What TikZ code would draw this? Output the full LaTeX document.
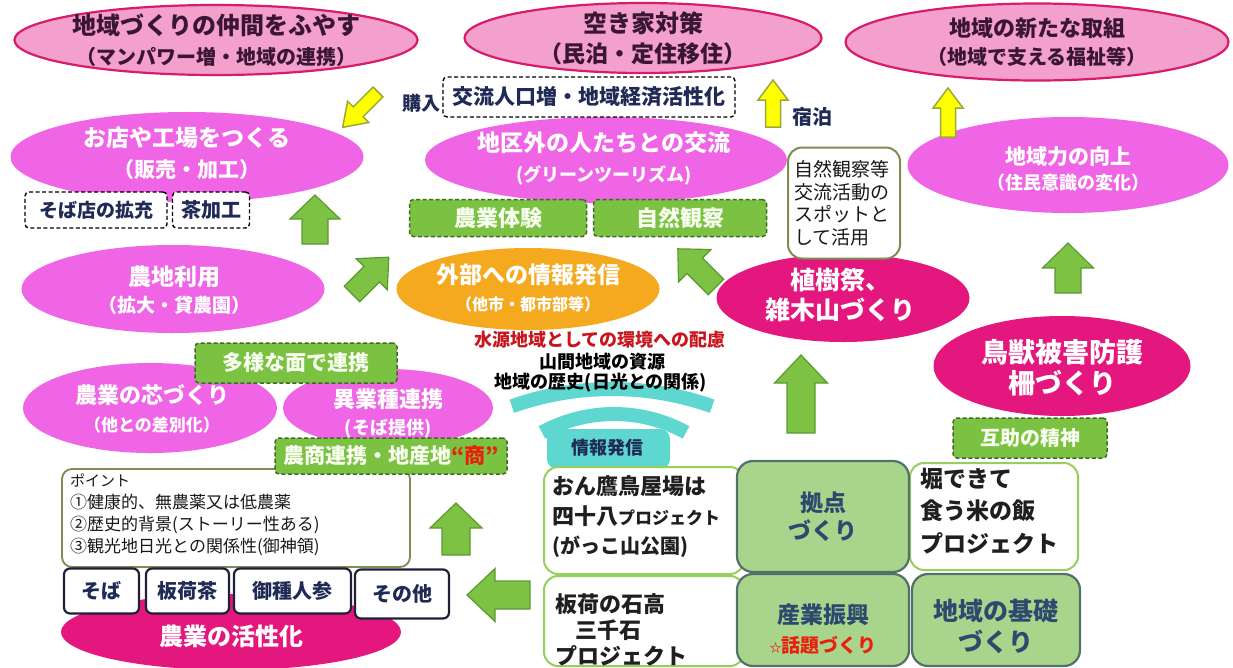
\documentclass[tikz,border=0pt]{standalone}
\usepackage{fontspec}
\setmainfont{Noto Sans CJK JP}
\usetikzlibrary{shapes.geometric}
\newcommand\fsz[2]{\fontsize{#1}{#2}\selectfont}
\definecolor{pinkF}{HTML}{F4A0CC}
\definecolor{pinkB}{HTML}{D81B6A}
\definecolor{darkT}{HTML}{3A1632}
\definecolor{magF}{HTML}{F064E6}
\definecolor{deepF}{HTML}{E3177D}
\definecolor{orgF}{HTML}{F5A91F}
\definecolor{grF}{HTML}{7CC242}
\definecolor{grB}{HTML}{3E6B28}
\definecolor{arF}{HTML}{7DC242}
\definecolor{arB}{HTML}{5B9A32}
\definecolor{yeF}{HTML}{FFFF00}
\definecolor{yeB}{HTML}{9AA83C}
\definecolor{tealA}{HTML}{5DD7CF}
\definecolor{navyT}{HTML}{1F2A55}
\definecolor{navyB}{HTML}{1E2038}
\definecolor{cellG}{HTML}{A9D48C}
\definecolor{cellB}{HTML}{52716B}
\definecolor{cellW}{HTML}{96CF5E}
\definecolor{ptB}{HTML}{7D8C52}
\definecolor{redT}{HTML}{C8161D}
\definecolor{redS}{HTML}{E8200C}
\definecolor{blueT}{HTML}{2D4A6E}
\definecolor{lightT}{HTML}{F8FFF0}
\tikzset{
  pics/barrow/.style n args={4}{code={
    \path[pic actions] (0,{-#4/2}) -- ({#1-#2},{-#4/2}) -- ({#1-#2},{-#3/2}) -- (#1,0)
      -- ({#1-#2},{#3/2}) -- ({#1-#2},{#4/2}) -- (0,{#4/2}) -- cycle;
  }},
  garr/.style={fill=arF, draw=arB, line width=1.2pt, line join=miter},
  yarr/.style={fill=yeF, draw=yeB, line width=1.5pt, line join=miter},
  ell/.style={ellipse, inner sep=0pt, outer sep=0pt},
  pinkE/.style={ell, fill=pinkF, draw=pinkB, line width=2.2pt},
  magE/.style={ell, fill=magF},
  deepE/.style={ell, fill=deepF},
  orgE/.style={ell, fill=orgF},
  etext/.style={align=center, inner sep=0pt, text=white},
  ptext/.style={align=center, inner sep=0pt, text=darkT},
  dbox/.style={rectangle, rounded corners=4pt, fill=white, draw=black, dash pattern=on 4pt off 2.5pt, line width=1.4pt, text=navyT, inner sep=0pt},
  gbox/.style={rectangle, rounded corners=4pt, fill=grF, draw=grB, dash pattern=on 4pt off 2.5pt, line width=1.5pt, text=lightT, inner sep=0pt},
  kbox/.style={rectangle, rounded corners=6pt, fill=white, draw=navyB, line width=2.2pt, text=navyT, font=\bfseries\fsz{20}{24}, inner sep=0pt},
  wcell/.style={rectangle, rounded corners=14pt, fill=white, draw=cellW, line width=2pt, inner sep=0pt},
  gcell/.style={rectangle, rounded corners=16pt, fill=cellG, draw=cellB, line width=2.2pt, inner sep=0pt},
  ctext/.style={inner sep=0pt, text=black!88},
  fb/.style 2 args={font=\bfseries\fsz{#1}{#2}},
}
\begin{document}
\begin{tikzpicture}[x=1pt,y=-1pt]
\path[use as bounding box, fill=white] (0,0) rectangle (1233,667);

% wifi arcs
\draw[tealA, line width=14pt] (612,689) ++(-70.5:300) arc[start angle=-70.5, end angle=-109.5, radius=300];
\draw[tealA, line width=14pt] (614,564) ++(-61.3:150) arc[start angle=-61.3, end angle=-118.7, radius=150];

% top ellipses
\node[pinkE, minimum width=403, minimum height=70] (e1) at (216,40) {};
\node[ptext, fb={24}{30}] (e1t) at (216,40) {地域づくりの仲間をふやす\\\fsz{20}{30}（マンパワー増・地域の連携）};
\node[pinkE, minimum width=357, minimum height=70] (e2) at (643,38) {};
\node[ptext, fb={24}{30}] (e2t) at (643,38) {空き家対策\\\fsz{23}{30}（民泊・定住移住）};
\node[pinkE, minimum width=383, minimum height=77] (e3) at (1037,42) {};
\node[ptext, fb={22}{28}] (e3t) at (1037,42) {地域の新たな取組\\\fsz{20}{28}（地域で支える福祉等）};

% magenta ellipses
\node[magE, minimum width=353, minimum height=90] (m1) at (187,157) {};
\node[etext, fb={23}{31}] (m1t) at (187,153) {お店や工場をつくる\\\fsz{21}{31}（販売・加工）};
\node[magE, minimum width=362, minimum height=86] (m2) at (606,160) {};
\node[etext, fb={23}{30}] (m2t) at (604,158) {地区外の人たちとの交流\\\fsz{18}{30}(グリーンツーリズム)};
\node[magE, minimum width=321, minimum height=96] (m3) at (1068,165) {};
\node[etext, fb={21}{25}] (m3t) at (1068,169) {地域力の向上\\\fsz{18}{25}（住民意識の変化）};
\node[magE, minimum width=303, minimum height=88] (m4) at (173,289) {};
\node[etext, fb={23}{27}] (m4t) at (174,290) {農地利用\\\fsz{19}{27}（拡大・貸農園）};
\node[magE, minimum width=254, minimum height=90] (m5) at (150,408) {};
\node[etext, fb={22}{28}] (m5t) at (152,409) {農業の芯づくり\\\fsz{17}{28}（他との差別化）};
\node[magE, minimum width=210, minimum height=78] (m6) at (388,408) {};
\node[etext, fb={22}{27}] (m6t) at (388,413) {異業種連携\\\fsz{18}{27}(そば提供)};

% orange
\node[orgE, minimum width=263, minimum height=82] (o1) at (528,289) {};
\node[etext, fb={23}{27}] (o1t) at (528,288) {外部への情報発信\\\fsz{16}{27}（他市・都市部等）};

% deep pink
\node[deepE, minimum width=253, minimum height=88] (d1) at (843,298) {};
\node[etext, fb={25}{30}] (d1t) at (840,295) {植樹祭、\\雑木山づくり};
\node[deepE, minimum width=257, minimum height=100] (d2) at (1062,366) {};
\node[etext, fb={27}{31}] (d2t) at (1062,368) {鳥獣被害防護\\柵づくり};
\node[deepE, minimum width=340, minimum height=76] (d3) at (231,632) {};
\node[etext, fb={24}{28}] (d3t) at (231,636) {農業の活性化};

% dashed white boxes
\node[dbox, fb={21}{24}, minimum width=292, minimum height=40] (b1) at (589,97) {交流人口増・地域経済活性化};
\node[dbox, fb={19}{22}, minimum width=142, minimum height=36] (b2) at (96,210) {そば店の拡充};
\node[dbox, fb={20}{22}, minimum width=77, minimum height=36] (b3) at (211,210) {茶加工};
\node[inner sep=0pt, fb={19}{22}, text=navyT] (kounyu) at (421,103) {購入};
\node[inner sep=0pt, fb={20}{22}, text=navyT] (shuku) at (812,117) {宿泊};

% green dashed boxes
\node[gbox, fb={22}{24}, minimum width=177, minimum height=37] (g1) at (498,218) {農業体験};
\node[gbox, fb={22}{24}, minimum width=173, minimum height=37] (g2) at (680,218) {自然観察};
\node[gbox, fb={21}{24}, minimum width=202, minimum height=40] (g3) at (296,363) {多様な面で連携};
\node[gbox, fb={20}{24}, minimum width=154, minimum height=40] (g5) at (1030,438) {互助の精神};

% note box
\node[rectangle, rounded corners=14pt, fill=white, draw=ptB, line width=2pt, minimum width=112, minimum height=111, text width=100, inner xsep=6pt, inner ysep=0pt, align=left, font=\fsz{19}{22.5}, text=black!90] (n1) at (844,203) {自然観察等\\交流活動の\\スポットと\\して活用};

% central texts
\node[inner sep=0pt, fb={18}{20}, text=redT] (w1) at (600,340) {水源地域としての環境への配慮};
\node[inner sep=0pt, fb={18}{20}, text=black] (w2) at (602,362) {山間地域の資源};
\node[inner sep=0pt, fb={18}{20}, text=black] (w3) at (601,383) {地域の歴史(日光との関係)};

% point box
\node[rectangle, rounded corners=10pt, fill=white, draw=ptB, line width=1.8pt, minimum width=348, minimum height=98, inner sep=0pt] (p1) at (236,518) {};
\node[anchor=north west, inner sep=0pt, align=left, font=\fsz{17}{22}, text=black!90] (p1t) at (70,474) {\fsz{15}{22}ポイント\\①健康的、無農薬又は低農薬\\②歴史的背景(ストーリー性ある)\\③観光地日光との関係性(御神領)};
\node[gbox, fb={21}{24}, minimum width=232, minimum height=36] (g4) at (391,456) {農商連携・地産地{\color{redS}\itshape“商”}};

% navy boxes
\node[kbox, minimum width=75, minimum height=45] (k1) at (101.5,591) {そば};
\node[kbox, minimum width=83, minimum height=45] (k2) at (187.5,591) {板荷茶};
\node[kbox, minimum width=117, minimum height=45] (k3) at (292.5,591) {御種人参};
\node[kbox, minimum width=94, minimum height=49] (k4) at (402,594) {その他};

% info tab and grid
\node[rectangle, rounded corners=10pt, fill=tealA, minimum width=123, minimum height=40, inner sep=0pt] (tab) at (608.5,449) {};
\node[inner sep=0pt, fb={18}{20}, text=navyT] (tabt) at (607,448) {情報発信};
\node[wcell, minimum width=200, minimum height=107] (c1) at (644,520.5) {};
\node[wcell, minimum width=168, minimum height=107] (c3) at (994,516.5) {};
\node[wcell, minimum width=200, minimum height=90] (c4) at (644,621) {};
\node[gcell, minimum width=172, minimum height=111] (c2) at (823,516.5) {};
\node[gcell, minimum width=172, minimum height=92] (c5) at (823,620) {};
\node[gcell, minimum width=168, minimum height=92] (c6) at (996,620) {};
\node[ctext, fb={22}{29.5}, anchor=west, align=left] (c1t) at (552,517) {おん鷹鳥屋場は\\四十八{\fsz{17}{29.5}プロジェクト}\\\fsz{20}{29.5}(がっこ山公園)};
\node[ctext, fb={23}{32.5}, anchor=west, align=left] (c3t) at (920,511) {堀できて\\食う米の飯\\プロジェクト};
\node[ctext, fb={22}{26}, anchor=west, align=left] (c4t) at (555,630) {板荷の石高\\\hspace*{20pt}三千石\\プロジェクト};
\node[ctext, fb={23}{28}, align=center, text=blueT] (c2t) at (823,517) {拠点\\づくり};
\node[ctext, fb={23}{29}, align=center, text=blueT] (c5t) at (823,629) {産業振興\\\color{redS}\fsz{19}{29}{\fsz{12}{29}☆}話題づくり};
\node[ctext, fb={25}{31}, align=center, text=blueT] (c6t) at (996,626) {地域の基礎\\づくり};

% block arrows
\pic[garr, rotate=90] at (315,244) {barrow={49}{24}{50}{26}};
\pic[garr, rotate=45] at (352,294) {barrow={52}{24}{44}{22}};
\pic[garr, rotate=135] at (716,287) {barrow={54}{24}{46}{22}};
\pic[garr, rotate=90] at (1068,293) {barrow={50}{25}{51}{26}};
\pic[garr, rotate=90] at (801,433) {barrow={78}{28}{53}{28}};
\pic[garr, rotate=90] at (456,555) {barrow={52}{25}{52}{28}};
\pic[garr, rotate=180] at (530,595) {barrow={63}{28}{53}{28}};
\pic[yarr, rotate=225] at (378,92) {barrow={50}{22}{30}{14}};
\pic[yarr, rotate=90] at (773,127) {barrow={47}{20}{30}{15}};
\pic[yarr, rotate=90] at (948,137) {barrow={49}{20}{30}{15}};
\end{tikzpicture}
\end{document}
